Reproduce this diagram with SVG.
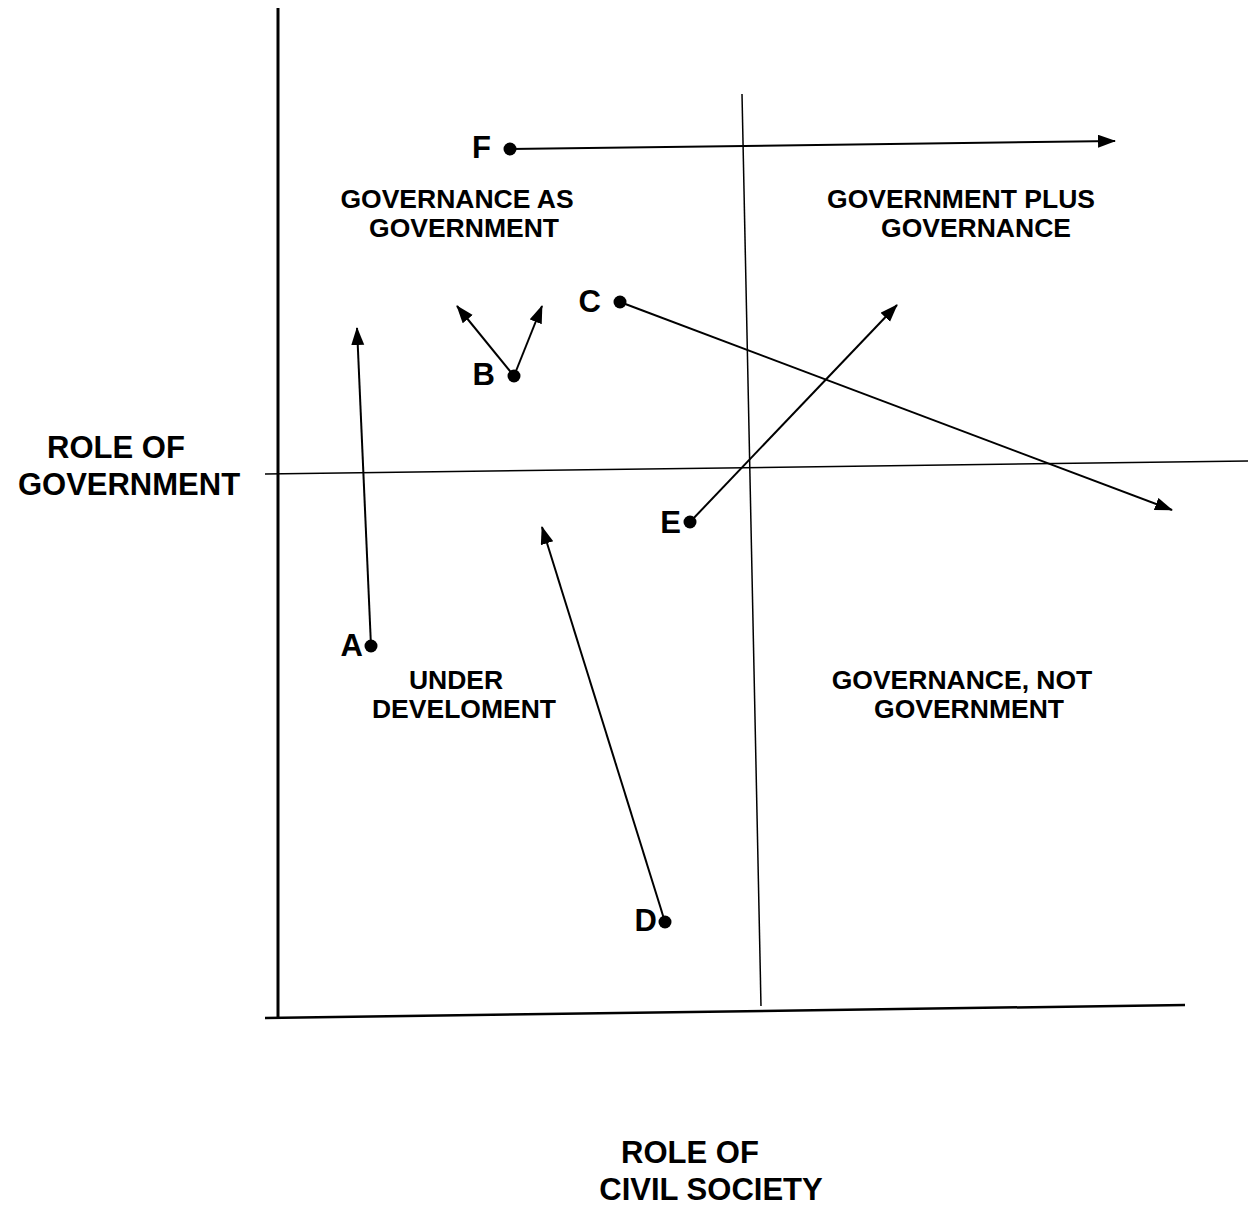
<svg xmlns="http://www.w3.org/2000/svg" width="1253" height="1232" viewBox="0 0 1253 1232">
<style>
.ax{stroke:#000;fill:none}
.ar{stroke:#000;stroke-width:2;fill:none;marker-end:url(#ah)}
.dot{fill:#000}
.lbl{font-family:"Liberation Sans",Arial,sans-serif;font-weight:bold;font-size:31px;fill:#000;text-anchor:end}
.reg{font-family:"Liberation Sans",Arial,sans-serif;font-weight:bold;font-size:26.5px;fill:#000;text-anchor:middle}
.axt{font-family:"Liberation Sans",Arial,sans-serif;font-weight:bold;font-size:31px;fill:#000;text-anchor:middle}
</style>
<defs>
<marker id="ah" markerUnits="userSpaceOnUse" markerWidth="20" markerHeight="14" refX="17" refY="6.5" orient="auto">
<path d="M0,0 L18,6.5 L0,13 Z" fill="#000"/>
</marker>
</defs>
<rect width="1253" height="1232" fill="#fff"/>
<g id="axes">
<line class="ax" x1="278" y1="8" x2="278" y2="1019" stroke-width="3"/>
<line class="ax" x1="265" y1="1018" x2="1185" y2="1005" stroke-width="2.5"/>
<line class="ax" x1="265" y1="474" x2="1248" y2="461" stroke-width="1.5"/>
<line class="ax" x1="742" y1="94" x2="761" y2="1006" stroke-width="1.5"/>
</g>
<g id="connectors">
<line class="ar" x1="510" y1="149" x2="1115" y2="141"/>
<line class="ar" x1="620" y1="302" x2="1172" y2="510"/>
<line class="ar" x1="514" y1="376" x2="457" y2="306"/>
<line class="ar" x1="514" y1="376" x2="542" y2="306"/>
<line class="ar" x1="371" y1="646" x2="357" y2="328"/>
<line class="ar" x1="690" y1="522" x2="897" y2="305"/>
<line class="ar" x1="665" y1="922" x2="542" y2="527"/>
</g>
<g id="node-F"><circle class="dot" cx="510" cy="149" r="6.5"/><text class="lbl" x="491" y="158">F</text></g>
<g id="node-C"><circle class="dot" cx="620" cy="302" r="6.5"/><text class="lbl" x="601" y="312">C</text></g>
<g id="node-B"><circle class="dot" cx="514" cy="376" r="6.5"/><text class="lbl" x="495" y="385">B</text></g>
<g id="node-A"><circle class="dot" cx="371" cy="646" r="6.5"/><text class="lbl" x="363" y="656">A</text></g>
<g id="node-E"><circle class="dot" cx="690" cy="522" r="6.5"/><text class="lbl" x="681" y="533">E</text></g>
<g id="node-D"><circle class="dot" cx="665" cy="922" r="6.5"/><text class="lbl" x="657" y="931">D</text></g>
<g id="regions">
<text class="reg" x="457" y="208">GOVERNANCE AS</text>
<text class="reg" x="464" y="237">GOVERNMENT</text>
<text class="reg" x="961" y="208">GOVERNMENT PLUS</text>
<text class="reg" x="976" y="237">GOVERNANCE</text>
<text class="reg" x="456" y="689">UNDER</text>
<text class="reg" x="464" y="718">DEVELOMENT</text>
<text class="reg" x="962" y="689">GOVERNANCE, NOT</text>
<text class="reg" x="969" y="718">GOVERNMENT</text>
</g>
<g id="axis-labels">
<text class="axt" x="116" y="458">ROLE OF</text>
<text class="axt" x="129" y="495">GOVERNMENT</text>
<text class="axt" x="690" y="1163">ROLE OF</text>
<text class="axt" x="711" y="1200">CIVIL SOCIETY</text>
</g>
</svg>
